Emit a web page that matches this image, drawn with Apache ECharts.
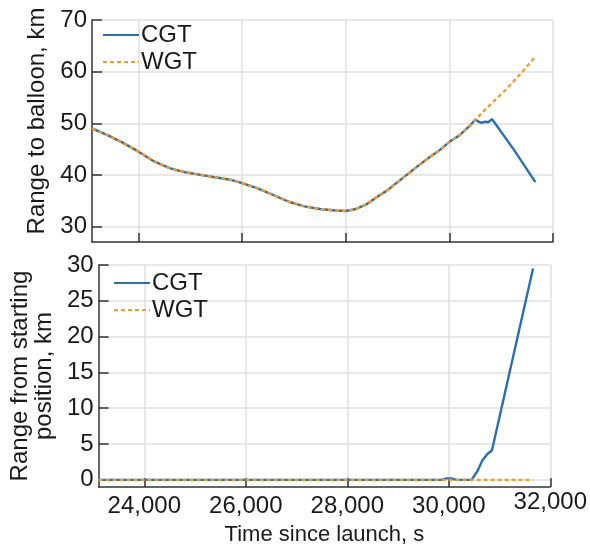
<!DOCTYPE html>
<html>
<head>
<meta charset="utf-8">
<script src="https://cdn.jsdelivr.net/npm/echarts@6/dist/echarts.min.js"></script>
<style>
html,body{margin:0;padding:0;background:#fff;}
#chart{width:590px;height:547px;}
</style>
</head>
<body>
<div id="chart"></div>
<script>
// ---- Data ----
// Top panel: range to balloon (km). CGT and WGT coincide until ~30500 s.
const sharedTime  = [23100,23400,23700,24000,24300,24600,24900,25200,25500,25800,26000,26300,26600,26900,27200,27500,27800,28000,28200,28400,28600,28800,29000,29200,29400,29600,29800,30000,30200,30400,30500];
const sharedRange = [49.0,47.7,46.2,44.5,42.6,41.3,40.5,40.0,39.5,39.0,38.4,37.4,36.1,34.8,33.9,33.4,33.1,33.0,33.4,34.3,35.7,37.0,38.6,40.2,41.8,43.3,44.7,46.4,47.7,49.6,50.7];
const cgtTailTime  = [30600,30700,30750,30820,30860,31250,31660];
const cgtTailRange = [50.1,50.3,50.2,50.8,50.3,44.8,38.6];
const wgtTailTime  = [30800,31100,31400,31660];
const wgtTailRange = [53.7,56.6,59.9,62.9];

// Bottom panel: range from starting position (km)
const cgtStartTime  = [23100,29850,29950,30050,30150,30450,30570,30660,30760,30850,31660];
const cgtStartRange = [0,0,0.2,0.2,0,0,1.3,2.7,3.6,4.1,29.5];
const wgtStartTime  = [23100,31660];
const wgtStartRange = [0,0];

// Axis ticks
const timeTicks   = [24000,26000,28000,30000,32000];
const topTicks    = [30,40,50,60,70];
const bottomTicks = [0,5,10,15,20,25,30];

const seriesNames = ['CGT','WGT'];

function pairs(xs, ys){ return xs.map((x,i)=>[x, ys[i]]); }

const BLUE = '#2c6fad';
const ORANGE = '#f39c2b';
const FONT = 'Liberation Sans, Arial, sans-serif';
const AX = '#333333';
const GRIDC = '#e0e0e0';
const TXT = '#1a1a1a';

function xAxis(idx, showLabels){
  return {
    type:'value', gridIndex: idx, min: 23100, max: 32000,
    axisLine:{show:true, onZero:false, lineStyle:{color:AX, width:1.5}},
    axisTick:{show:true, inside:true, length:9, customValues: timeTicks, lineStyle:{color:AX, width:1.5}},
    splitLine:{show:true, lineStyle:{color:GRIDC, width:1.5}},
    axisLabel:{
      show: showLabels, customValues: timeTicks, margin: 3,
      color:TXT, fontFamily: FONT, fontSize: 24,
      formatter: function(v){
        const s = Number(v).toLocaleString('en-US');
        return v === 32000 ? '{u|' + s + '}' : '{n|' + s + '}';
      },
      rich:{
        n:{fontSize:24, fontFamily:FONT, color:TXT, padding:[4,0,0,0]},
        u:{fontSize:24, fontFamily:FONT, color:TXT}
      }
    },
    name: showLabels ? 'Time since launch, s' : '',
    nameLocation:'middle', nameGap: 37,
    nameTextStyle:{color:TXT, fontFamily:FONT, fontSize:22}
  };
}

function yAxis(idx, min, max, ticks, name, gap, pad){
  return {
    type:'value', gridIndex: idx, min: min, max: max,
    axisLine:{show:true, onZero:false, lineStyle:{color:AX, width:1.5}},
    axisTick:{show:true, inside:true, length:10, customValues: ticks, lineStyle:{color:AX, width:1.5}},
    splitLine:{show:true, lineStyle:{color:GRIDC, width:1.5}},
    axisLabel:{customValues: ticks, margin: 5, color:TXT, fontFamily: FONT, fontSize: 24},
    name: name, nameLocation:'middle', nameGap: gap,
    nameTextStyle:{color:TXT, fontFamily:FONT, fontSize:24, lineHeight:24, padding: pad}
  };
}

function legend(left, top){
  return {
    data: seriesNames, orient:'vertical', left:left, top:top,
    itemWidth: 36, itemHeight: 14, itemGap: 3,
    itemStyle:{opacity:0},
    textStyle:{color:TXT, fontFamily:FONT, fontSize:24, padding:[0,0,0,-3]},
    backgroundColor:'rgba(255,255,255,0)'
  };
}

const chart = echarts.init(document.getElementById('chart'), null, {renderer:'canvas'});
chart.setOption({
  animation:false,
  backgroundColor:'#ffffff',
  grid:[
    {left:92, right:37, top:20, height:222},
    {left:92, right:37, top:265, height:223}
  ],
  legend:[ legend(97, 18), legend(108, 266) ],
  xAxis:[ xAxis(0,false), xAxis(1,true) ],
  yAxis:[
    yAxis(0, 27, 70, topTicks, 'Range to balloon, km', 42, [0,0,0,20]),
    yAxis(1, -1, 30, bottomTicks, 'Range from starting\nposition, km', 24, [0,0,0,0])
  ],
  series:[
    {name:'CGT', type:'line', xAxisIndex:0, yAxisIndex:0, symbol:'none', z:2,
     data: pairs(sharedTime.concat(cgtTailTime), sharedRange.concat(cgtTailRange)),
     lineStyle:{color:BLUE, width:2.4}, itemStyle:{color:BLUE}},
    {name:'WGT', type:'line', xAxisIndex:0, yAxisIndex:0, symbol:'none', z:3,
     data: pairs(sharedTime.concat(wgtTailTime), sharedRange.concat(wgtTailRange)),
     lineStyle:{color:ORANGE, width:2.4, type:[4,3]}, itemStyle:{color:ORANGE}},
    {name:'CGT', type:'line', xAxisIndex:1, yAxisIndex:1, symbol:'none', z:2,
     data: pairs(cgtStartTime, cgtStartRange),
     lineStyle:{color:BLUE, width:2.4}, itemStyle:{color:BLUE}},
    {name:'WGT', type:'line', xAxisIndex:1, yAxisIndex:1, symbol:'none', z:3,
     data: pairs(wgtStartTime, wgtStartRange),
     lineStyle:{color:ORANGE, width:2.4, type:[4,3]}, itemStyle:{color:ORANGE}}
  ]
});
</script>
</body>
</html>
